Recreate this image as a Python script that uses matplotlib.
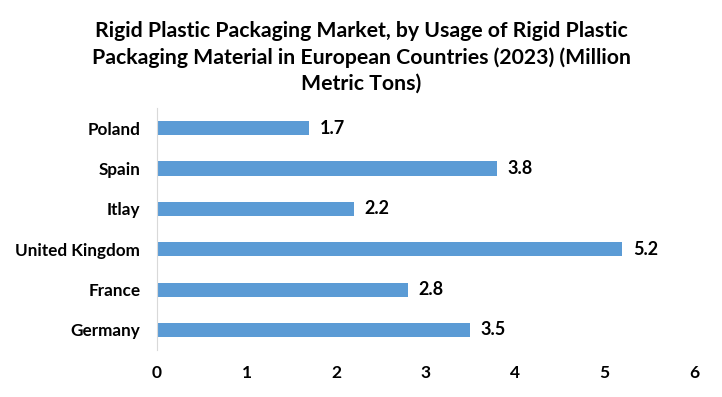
import matplotlib
matplotlib.use("Agg")
import matplotlib.pyplot as plt

categories = ["Germany", "France", "United Kingdom", "Itlay", "Spain", "Poland"]
values = [3.5, 2.8, 5.2, 2.2, 3.8, 1.7]
xticks = [0, 1, 2, 3, 4, 5, 6]
title = ("Rigid Plastic Packaging Market, by Usage of Rigid Plastic\n"
         "Packaging Material in European Countries (2023) (Million\n"
         "Metric Tons)")

plt.rcParams['font.family'] = ['Lato', 'DejaVu Sans']

fig = plt.figure(figsize=(7.22, 3.97), dpi=100)
ax = fig.add_axes([0.2175, 0.118, 0.7435, 0.61])
y = list(range(len(categories)))
ax.barh(y, values, height=0.35, color="#5B9BD5")
for yi, v in zip(y, values):
    ax.text(v + 0.12, yi, f"{v}", va="center", ha="left", fontsize=13, fontweight="bold", color="#000000")
ax.set_xlim(0, 6)
ax.set_ylim(-0.5, len(categories) - 0.5)
ax.set_yticks(y)
ax.set_yticklabels(categories, fontsize=12.3, fontweight="bold")
ax.set_xticks(xticks)
ax.set_xticklabels([str(t) for t in xticks], fontsize=12.5, fontweight="bold")
for s in ["top", "right", "bottom"]:
    ax.spines[s].set_visible(False)
ax.spines["left"].set_color("#D9D9D9")
ax.tick_params(axis="both", length=0)
ax.tick_params(axis="x", pad=11)
ax.tick_params(axis="y", pad=12)
fig.text(0.5, 0.948, title, ha="center", va="top", fontsize=15.3, fontweight="bold", linespacing=1.38)
fig.savefig("out.png", dpi=100)
